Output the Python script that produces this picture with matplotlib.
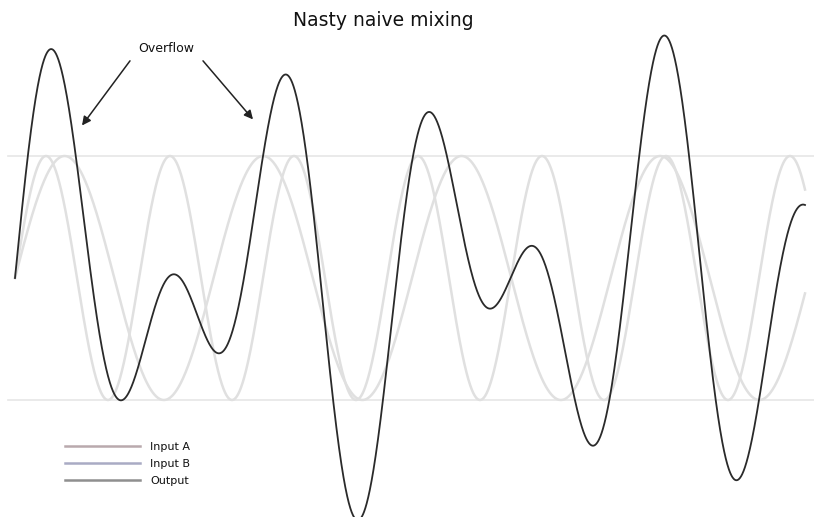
import numpy as np
import matplotlib
matplotlib.use("Agg")
import matplotlib.pyplot as plt
from matplotlib.lines import Line2D

# ---- data ----
title = "Nasty naive mixing"
series_labels = ["Input A", "Input B", "Output"]
input_a_period = 124.0      # samples per cycle
input_b_period = 198.5      # samples per cycle
input_a_amplitude = 1.0
input_b_amplitude = 1.0
n_samples = 790
clip_levels = [1.0, -1.0]
annotation_text = "Overflow"
overflow_targets_x = [67, 238]      # sample positions the arrows point at
overflow_targets_y = [1.25, 1.30]

t = np.linspace(0, n_samples, 3000)
input_a = input_a_amplitude * np.sin(2 * np.pi * t / input_a_period)
input_b = input_b_amplitude * np.sin(2 * np.pi * t / input_b_period)
output = input_a + input_b

# ---- drawing ----
fig = plt.figure(figsize=(8.14, 5.17), dpi=100)
ax = fig.add_axes([0, 0, 1, 1])
ax.set_xlim(-15, 799)
ax.set_ylim(-(517 - 278) / 122, 278 / 122)
ax.axis("off")

for lvl in clip_levels:
    ax.plot([-7, 799], [lvl, lvl], color="#e6e6e6", lw=1.2, zorder=1)

ax.plot(t, input_a, color="#e0e0e0", lw=1.8, zorder=2)
ax.plot(t, input_b, color="#e0e0e0", lw=1.8, zorder=2)
ax.plot(t, output, color="#2a2a2a", lw=1.3, zorder=3)

ax.text(383 / 814, 1 - 20 / 517, title, transform=ax.transAxes, ha="center", va="center",
        fontsize=13.5, family="DejaVu Sans", color="#111111")

text_xy = (151, 1.88)
ax.text(text_xy[0], text_xy[1], annotation_text, ha="center", va="center",
        fontsize=9, color="#111111")
starts = [(115, 1.78), (188, 1.78)]
for (sx, sy), tx, ty in zip(starts, overflow_targets_x, overflow_targets_y):
    ax.annotate("", xy=(tx, ty), xytext=(sx, sy),
                arrowprops=dict(arrowstyle="-|>", color="#222222", lw=1.1,
                                mutation_scale=13, shrinkA=0, shrinkB=0))

legend_colors = ["#b9a9ad", "#a9abc4", "#8f8f8f"]
handles = [Line2D([0], [0], color=c, lw=1.8) for c in legend_colors]
leg = ax.legend(handles, series_labels, loc="lower left",
                bbox_to_anchor=(57 / 814, 1 - 494 / 517), frameon=False,
                fontsize=8, handlelength=6.8, handletextpad=0.9,
                labelspacing=0.65, borderpad=0.2)
for txt in leg.get_texts():
    txt.set_color("#111111")

fig.savefig("out.png", dpi=100)
